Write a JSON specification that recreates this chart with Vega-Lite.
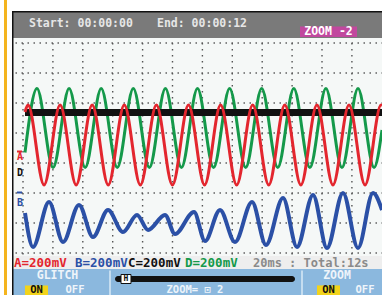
{
  "$schema": "https://vega.github.io/schema/vega-lite/v6.json",
  "width": 382,
  "height": 295,
  "autosize": {"type": "none"},
  "padding": 0,
  "background": "#ffffff",
  "config": {"view": {"stroke": null}, "text": {"font": "DejaVu Sans Mono"}},
  "datasets": {
    "gridx": [{"t":0},{"t":1},{"t":2},{"t":3},{"t":4},{"t":5},{"t":6},{"t":7},{"t":8},{"t":9},{"t":10},{"t":11}],
    "gridy": [{"v":0},{"v":1},{"v":2},{"v":3},{"v":4},{"v":5},{"v":6},{"v":7}],
    "D": [
      {"t":0.067,"v":3.35},{"t":0.468,"v":5.48},{"t":1.005,"v":2.85},{"t":1.542,"v":5.48},{"t":2.079,"v":2.85},
      {"t":2.615,"v":5.48},{"t":3.152,"v":2.85},{"t":3.689,"v":5.48},{"t":4.226,"v":2.85},{"t":4.763,"v":5.48},
      {"t":5.299,"v":2.85},{"t":5.836,"v":5.48},{"t":6.373,"v":2.85},{"t":6.910,"v":5.48},{"t":7.447,"v":2.85},
      {"t":7.983,"v":5.48},{"t":8.520,"v":2.85},{"t":9.057,"v":5.48},{"t":9.594,"v":2.85},{"t":10.130,"v":5.48},
      {"t":10.667,"v":2.85},{"t":11.204,"v":5.48},{"t":11.741,"v":2.85},{"t":12.007,"v":4.10}
    ],
    "A": [
      {"t":0.067,"v":4.70},{"t":0.167,"v":4.93},{"t":0.704,"v":2.27},{"t":1.241,"v":4.93},{"t":1.778,"v":2.27},
      {"t":2.314,"v":4.93},{"t":2.851,"v":2.27},{"t":3.388,"v":4.93},{"t":3.925,"v":2.27},{"t":4.462,"v":4.93},
      {"t":4.998,"v":2.27},{"t":5.535,"v":4.93},{"t":6.072,"v":2.27},{"t":6.609,"v":4.93},{"t":7.146,"v":2.27},
      {"t":7.682,"v":4.93},{"t":8.219,"v":2.27},{"t":8.756,"v":4.93},{"t":9.293,"v":2.27},{"t":9.830,"v":4.93},
      {"t":10.366,"v":2.27},{"t":10.903,"v":4.93},{"t":11.440,"v":2.27},{"t":11.977,"v":4.93},{"t":12.007,"v":4.92}
    ],
    "C": [{"t":0.067,"v":4.68},{"t":12.007,"v":4.68}],
    "B": [
      {"t":0.067,"v":1.333},{"t":0.334,"v":0.200},{"t":0.870,"v":1.700},{"t":1.338,"v":0.367},{"t":1.873,"v":1.600},
      {"t":2.341,"v":0.533},{"t":2.843,"v":1.433},{"t":3.344,"v":0.700},{"t":3.813,"v":1.267},{"t":4.181,"v":0.767},
      {"t":4.749,"v":1.267},{"t":5.084,"v":0.633},{"t":5.719,"v":1.367},{"t":6.087,"v":0.400},{"t":6.589,"v":1.433},
      {"t":7.090,"v":0.367},{"t":7.659,"v":1.700},{"t":8.127,"v":0.267},{"t":8.696,"v":1.833},{"t":9.164,"v":0.200},
      {"t":9.699,"v":1.933},{"t":10.167,"v":0.167},{"t":10.702,"v":2.000},{"t":11.204,"v":0.167},{"t":11.706,"v":2.000},
      {"t":12.007,"v":1.433}
    ]
  },
  "data": {"values": [{}]},
  "layer": [
    {"mark": {"type": "rect", "color": "#f4b41e"},
     "encoding": {"x": {"datum": -0.6355, "type": "quantitative", "scale": {"domain": [-0.76923, 12.00669], "nice": false, "zero": false}, "axis": null}, "x2": {"datum": -0.5351},
                  "y": {"datum": 8.43333, "type": "quantitative", "scale": {"domain": [-1.4, 8.43333], "nice": false, "zero": false}, "axis": null}, "y2": {"datum": -1.4}}},
    {"mark": {"type": "rect", "color": "#111111"},
     "encoding": {"x": {"datum": -0.3679, "type": "quantitative", "scale": {"domain": [-0.76923, 12.00669], "nice": false, "zero": false}, "axis": null}, "x2": {"datum": 12.00669},
                  "y": {"datum": 8.0667, "type": "quantitative", "scale": {"domain": [-1.4, 8.43333], "nice": false, "zero": false}, "axis": null}, "y2": {"datum": -1.4}}},
    {"mark": {"type": "rect", "color": "#7a7a7a"},
     "encoding": {"x": {"datum": -0.3177, "type": "quantitative", "scale": {"domain": [-0.76923, 12.00669], "nice": false, "zero": false}, "axis": null}, "x2": {"datum": 12.00669},
                  "y": {"datum": 8.0167, "type": "quantitative", "scale": {"domain": [-1.4, 8.43333], "nice": false, "zero": false}, "axis": null}, "y2": {"datum": 7.1667}}},
    {"mark": {"type": "rect", "color": "#f5f8f7"},
     "encoding": {"x": {"datum": -0.3177, "type": "quantitative", "scale": {"domain": [-0.76923, 12.00669], "nice": false, "zero": false}, "axis": null}, "x2": {"datum": 12.00669},
                  "y": {"datum": 7.1667, "type": "quantitative", "scale": {"domain": [-1.4, 8.43333], "nice": false, "zero": false}, "axis": null}, "y2": {"datum": -0.1}}},
    {"mark": {"type": "rect", "color": "#eeeeee"},
     "encoding": {"x": {"datum": -0.3177, "type": "quantitative", "scale": {"domain": [-0.76923, 12.00669], "nice": false, "zero": false}, "axis": null}, "x2": {"datum": 12.00669},
                  "y": {"datum": -0.1, "type": "quantitative", "scale": {"domain": [-1.4, 8.43333], "nice": false, "zero": false}, "axis": null}, "y2": {"datum": -0.5333}}},
    {"mark": {"type": "rect", "color": "#8bb8de"},
     "encoding": {"x": {"datum": -0.3177, "type": "quantitative", "scale": {"domain": [-0.76923, 12.00669], "nice": false, "zero": false}, "axis": null}, "x2": {"datum": 12.00669},
                  "y": {"datum": -0.5333, "type": "quantitative", "scale": {"domain": [-1.4, 8.43333], "nice": false, "zero": false}, "axis": null}, "y2": {"datum": -1.4}}},

    {"data": {"name": "gridx"},
     "mark": {"type": "rule", "color": "#555555", "strokeWidth": 1.4, "strokeDash": [1.4, 4.6]},
     "encoding": {"x": {"field": "t", "type": "quantitative", "scale": {"domain": [-0.76923, 12.00669], "nice": false, "zero": false}, "axis": null},
                  "y": {"datum": -0.05, "type": "quantitative", "scale": {"domain": [-1.4, 8.43333], "nice": false, "zero": false}, "axis": null}, "y2": {"datum": 7.1}}},
    {"data": {"name": "gridy"},
     "mark": {"type": "rule", "color": "#555555", "strokeWidth": 1.4, "strokeDash": [1.4, 4.6]},
     "encoding": {"y": {"field": "v", "type": "quantitative", "scale": {"domain": [-1.4, 8.43333], "nice": false, "zero": false}, "axis": null},
                  "x": {"datum": -0.25, "type": "quantitative", "scale": {"domain": [-0.76923, 12.00669], "nice": false, "zero": false}, "axis": null}, "x2": {"datum": 12.00669}}},

    {"data": {"name": "D"},
     "mark": {"type": "line", "color": "#14994a", "strokeWidth": 3, "interpolate": "monotone"},
     "encoding": {"x": {"field": "t", "type": "quantitative", "scale": {"domain": [-0.76923, 12.00669], "nice": false, "zero": false}, "axis": null},
                  "y": {"field": "v", "type": "quantitative", "scale": {"domain": [-1.4, 8.43333], "nice": false, "zero": false}, "axis": null}}},
    {"data": {"name": "C"},
     "mark": {"type": "line", "color": "#111111", "strokeWidth": 7},
     "encoding": {"x": {"field": "t", "type": "quantitative", "scale": {"domain": [-0.76923, 12.00669], "nice": false, "zero": false}, "axis": null},
                  "y": {"field": "v", "type": "quantitative", "scale": {"domain": [-1.4, 8.43333], "nice": false, "zero": false}, "axis": null}}},
    {"data": {"name": "A"},
     "mark": {"type": "line", "color": "#e3262e", "strokeWidth": 3, "interpolate": "monotone"},
     "encoding": {"x": {"field": "t", "type": "quantitative", "scale": {"domain": [-0.76923, 12.00669], "nice": false, "zero": false}, "axis": null},
                  "y": {"field": "v", "type": "quantitative", "scale": {"domain": [-1.4, 8.43333], "nice": false, "zero": false}, "axis": null}}},
    {"data": {"name": "B"},
     "mark": {"type": "line", "color": "#2b50a6", "strokeWidth": 4, "interpolate": "monotone"},
     "encoding": {"x": {"field": "t", "type": "quantitative", "scale": {"domain": [-0.76923, 12.00669], "nice": false, "zero": false}, "axis": null},
                  "y": {"field": "v", "type": "quantitative", "scale": {"domain": [-1.4, 8.43333], "nice": false, "zero": false}, "axis": null}}},

    {"mark": {"type": "rule", "color": "#e3262e", "strokeWidth": 2},
     "encoding": {"x": {"datum": -0.2007, "type": "quantitative", "scale": {"domain": [-0.76923, 12.00669], "nice": false, "zero": false}, "axis": null}, "x2": {"datum": -0.0334},
                  "y": {"datum": 3.3833, "type": "quantitative", "scale": {"domain": [-1.4, 8.43333], "nice": false, "zero": false}, "axis": null}}},
    {"mark": {"type": "rule", "color": "#2b50a6", "strokeWidth": 2},
     "encoding": {"x": {"datum": -0.2007, "type": "quantitative", "scale": {"domain": [-0.76923, 12.00669], "nice": false, "zero": false}, "axis": null}, "x2": {"datum": -0.0334},
                  "y": {"datum": 2.0167, "type": "quantitative", "scale": {"domain": [-1.4, 8.43333], "nice": false, "zero": false}, "axis": null}}},
    {"mark": {"type": "text", "text": "A", "fontSize": 10, "fontWeight": "bold", "color": "#e3262e", "align": "center", "baseline": "middle"},
     "encoding": {"x": {"datum": -0.1003, "type": "quantitative", "scale": {"domain": [-0.76923, 12.00669], "nice": false, "zero": false}, "axis": null},
                  "y": {"datum": 3.2, "type": "quantitative", "scale": {"domain": [-1.4, 8.43333], "nice": false, "zero": false}, "axis": null}}},
    {"mark": {"type": "text", "text": "D", "fontSize": 10, "fontWeight": "bold", "color": "#111111", "align": "center", "baseline": "middle"},
     "encoding": {"x": {"datum": -0.1003, "type": "quantitative", "scale": {"domain": [-0.76923, 12.00669], "nice": false, "zero": false}, "axis": null},
                  "y": {"datum": 2.65, "type": "quantitative", "scale": {"domain": [-1.4, 8.43333], "nice": false, "zero": false}, "axis": null}}},
    {"mark": {"type": "text", "text": "B", "fontSize": 10, "fontWeight": "bold", "color": "#2b50a6", "align": "center", "baseline": "middle"},
     "encoding": {"x": {"datum": -0.1003, "type": "quantitative", "scale": {"domain": [-0.76923, 12.00669], "nice": false, "zero": false}, "axis": null},
                  "y": {"datum": 1.6667, "type": "quantitative", "scale": {"domain": [-1.4, 8.43333], "nice": false, "zero": false}, "axis": null}}},

    {"mark": {"type": "text", "text": "Start: 00:00:00", "fontSize": 11.5, "fontWeight": "bold", "color": "#e6e6e6", "align": "left", "baseline": "middle"},
     "encoding": {"x": {"datum": 0.2007, "type": "quantitative", "scale": {"domain": [-0.76923, 12.00669], "nice": false, "zero": false}, "axis": null},
                  "y": {"datum": 7.6167, "type": "quantitative", "scale": {"domain": [-1.4, 8.43333], "nice": false, "zero": false}, "axis": null}}},
    {"mark": {"type": "text", "text": "End: 00:00:12", "fontSize": 11.5, "fontWeight": "bold", "color": "#e6e6e6", "align": "left", "baseline": "middle"},
     "encoding": {"x": {"datum": 4.4816, "type": "quantitative", "scale": {"domain": [-0.76923, 12.00669], "nice": false, "zero": false}, "axis": null},
                  "y": {"datum": 7.6167, "type": "quantitative", "scale": {"domain": [-1.4, 8.43333], "nice": false, "zero": false}, "axis": null}}},
    {"mark": {"type": "rect", "color": "#c1489e"},
     "encoding": {"x": {"datum": 9.2642, "type": "quantitative", "scale": {"domain": [-0.76923, 12.00669], "nice": false, "zero": false}, "axis": null}, "x2": {"datum": 11.1706},
                  "y": {"datum": 7.55, "type": "quantitative", "scale": {"domain": [-1.4, 8.43333], "nice": false, "zero": false}, "axis": null}, "y2": {"datum": 7.2}}},
    {"mark": {"type": "text", "text": "ZOOM -2", "fontSize": 11.5, "fontWeight": "bold", "color": "#ffffff", "align": "center", "baseline": "middle"},
     "encoding": {"x": {"datum": 10.2174, "type": "quantitative", "scale": {"domain": [-0.76923, 12.00669], "nice": false, "zero": false}, "axis": null},
                  "y": {"datum": 7.3667, "type": "quantitative", "scale": {"domain": [-1.4, 8.43333], "nice": false, "zero": false}, "axis": null}}},

    {"mark": {"type": "text", "text": "A=200mV", "fontSize": 12.5, "fontWeight": "bold", "color": "#e3262e", "align": "left", "baseline": "middle"},
     "encoding": {"x": {"datum": -0.301, "type": "quantitative", "scale": {"domain": [-0.76923, 12.00669], "nice": false, "zero": false}, "axis": null},
                  "y": {"datum": -0.3167, "type": "quantitative", "scale": {"domain": [-1.4, 8.43333], "nice": false, "zero": false}, "axis": null}}},
    {"mark": {"type": "text", "text": "B=200mV", "fontSize": 12.5, "fontWeight": "bold", "color": "#2b50a6", "align": "left", "baseline": "middle"},
     "encoding": {"x": {"datum": 1.7391, "type": "quantitative", "scale": {"domain": [-0.76923, 12.00669], "nice": false, "zero": false}, "axis": null},
                  "y": {"datum": -0.3167, "type": "quantitative", "scale": {"domain": [-1.4, 8.43333], "nice": false, "zero": false}, "axis": null}}},
    {"mark": {"type": "text", "text": "C=200mV", "fontSize": 12.5, "fontWeight": "bold", "color": "#111111", "align": "left", "baseline": "middle"},
     "encoding": {"x": {"datum": 3.5117, "type": "quantitative", "scale": {"domain": [-0.76923, 12.00669], "nice": false, "zero": false}, "axis": null},
                  "y": {"datum": -0.3167, "type": "quantitative", "scale": {"domain": [-1.4, 8.43333], "nice": false, "zero": false}, "axis": null}}},
    {"mark": {"type": "text", "text": "D=200mV", "fontSize": 12.5, "fontWeight": "bold", "color": "#14994a", "align": "left", "baseline": "middle"},
     "encoding": {"x": {"datum": 5.4181, "type": "quantitative", "scale": {"domain": [-0.76923, 12.00669], "nice": false, "zero": false}, "axis": null},
                  "y": {"datum": -0.3167, "type": "quantitative", "scale": {"domain": [-1.4, 8.43333], "nice": false, "zero": false}, "axis": null}}},
    {"mark": {"type": "text", "text": "20ms : Total:12s", "fontSize": 12, "fontWeight": "bold", "color": "#8a8a8a", "align": "left", "baseline": "middle"},
     "encoding": {"x": {"datum": 7.6923, "type": "quantitative", "scale": {"domain": [-0.76923, 12.00669], "nice": false, "zero": false}, "axis": null},
                  "y": {"datum": -0.3167, "type": "quantitative", "scale": {"domain": [-1.4, 8.43333], "nice": false, "zero": false}, "axis": null}}},

    {"mark": {"type": "rule", "color": "#c5ddf0", "strokeWidth": 2},
     "encoding": {"x": {"datum": 2.9097, "type": "quantitative", "scale": {"domain": [-0.76923, 12.00669], "nice": false, "zero": false}, "axis": null},
                  "y": {"datum": -0.5833, "type": "quantitative", "scale": {"domain": [-1.4, 8.43333], "nice": false, "zero": false}, "axis": null}, "y2": {"datum": -1.4}}},
    {"mark": {"type": "rule", "color": "#c5ddf0", "strokeWidth": 2},
     "encoding": {"x": {"datum": 9.3311, "type": "quantitative", "scale": {"domain": [-0.76923, 12.00669], "nice": false, "zero": false}, "axis": null},
                  "y": {"datum": -0.5833, "type": "quantitative", "scale": {"domain": [-1.4, 8.43333], "nice": false, "zero": false}, "axis": null}, "y2": {"datum": -1.4}}},
    {"mark": {"type": "text", "text": "GLITCH", "fontSize": 11.5, "fontWeight": "bold", "color": "#eef4fa", "align": "center", "baseline": "middle"},
     "encoding": {"x": {"datum": 1.1538, "type": "quantitative", "scale": {"domain": [-0.76923, 12.00669], "nice": false, "zero": false}, "axis": null},
                  "y": {"datum": -0.7833, "type": "quantitative", "scale": {"domain": [-1.4, 8.43333], "nice": false, "zero": false}, "axis": null}}},
    {"mark": {"type": "rect", "color": "#f2d31b"},
     "encoding": {"x": {"datum": 0.0669, "type": "quantitative", "scale": {"domain": [-0.76923, 12.00669], "nice": false, "zero": false}, "axis": null}, "x2": {"datum": 0.8361},
                  "y": {"datum": -1.08, "type": "quantitative", "scale": {"domain": [-1.4, 8.43333], "nice": false, "zero": false}, "axis": null}, "y2": {"datum": -1.4}}},
    {"mark": {"type": "text", "text": "ON", "fontSize": 10.5, "fontWeight": "bold", "color": "#111111", "align": "center", "baseline": "middle"},
     "encoding": {"x": {"datum": 0.4515, "type": "quantitative", "scale": {"domain": [-0.76923, 12.00669], "nice": false, "zero": false}, "axis": null},
                  "y": {"datum": -1.2167, "type": "quantitative", "scale": {"domain": [-1.4, 8.43333], "nice": false, "zero": false}, "axis": null}}},
    {"mark": {"type": "text", "text": "OFF", "fontSize": 10.5, "fontWeight": "bold", "color": "#eef4fa", "align": "center", "baseline": "middle"},
     "encoding": {"x": {"datum": 1.7391, "type": "quantitative", "scale": {"domain": [-0.76923, 12.00669], "nice": false, "zero": false}, "axis": null},
                  "y": {"datum": -1.2167, "type": "quantitative", "scale": {"domain": [-1.4, 8.43333], "nice": false, "zero": false}, "axis": null}}},
    {"mark": {"type": "rect", "color": "#111111", "cornerRadius": 3},
     "encoding": {"x": {"datum": 3.0769, "type": "quantitative", "scale": {"domain": [-0.76923, 12.00669], "nice": false, "zero": false}, "axis": null}, "x2": {"datum": 9.097},
                  "y": {"datum": -0.7667, "type": "quantitative", "scale": {"domain": [-1.4, 8.43333], "nice": false, "zero": false}, "axis": null}, "y2": {"datum": -0.9667}}},
    {"mark": {"type": "rect", "color": "#ffffff", "stroke": "#111111", "strokeWidth": 1},
     "encoding": {"x": {"datum": 3.2776, "type": "quantitative", "scale": {"domain": [-0.76923, 12.00669], "nice": false, "zero": false}, "axis": null}, "x2": {"datum": 3.612},
                  "y": {"datum": -0.7167, "type": "quantitative", "scale": {"domain": [-1.4, 8.43333], "nice": false, "zero": false}, "axis": null}, "y2": {"datum": -1.0167}}},
    {"mark": {"type": "text", "text": "H", "fontSize": 8, "fontWeight": "bold", "color": "#111111", "align": "center", "baseline": "middle"},
     "encoding": {"x": {"datum": 3.4448, "type": "quantitative", "scale": {"domain": [-0.76923, 12.00669], "nice": false, "zero": false}, "axis": null},
                  "y": {"datum": -0.8667, "type": "quantitative", "scale": {"domain": [-1.4, 8.43333], "nice": false, "zero": false}, "axis": null}}},
    {"mark": {"type": "text", "text": "ZOOM= ⊡ 2", "fontSize": 10.5, "fontWeight": "bold", "color": "#eef4fa", "align": "center", "baseline": "middle"},
     "encoding": {"x": {"datum": 5.7525, "type": "quantitative", "scale": {"domain": [-0.76923, 12.00669], "nice": false, "zero": false}, "axis": null},
                  "y": {"datum": -1.2167, "type": "quantitative", "scale": {"domain": [-1.4, 8.43333], "nice": false, "zero": false}, "axis": null}}},
    {"mark": {"type": "text", "text": "ZOOM", "fontSize": 11.5, "fontWeight": "bold", "color": "#eef4fa", "align": "center", "baseline": "middle"},
     "encoding": {"x": {"datum": 10.5017, "type": "quantitative", "scale": {"domain": [-0.76923, 12.00669], "nice": false, "zero": false}, "axis": null},
                  "y": {"datum": -0.7833, "type": "quantitative", "scale": {"domain": [-1.4, 8.43333], "nice": false, "zero": false}, "axis": null}}},
    {"mark": {"type": "rect", "color": "#f2d31b"},
     "encoding": {"x": {"datum": 9.8328, "type": "quantitative", "scale": {"domain": [-0.76923, 12.00669], "nice": false, "zero": false}, "axis": null}, "x2": {"datum": 10.602},
                  "y": {"datum": -1.08, "type": "quantitative", "scale": {"domain": [-1.4, 8.43333], "nice": false, "zero": false}, "axis": null}, "y2": {"datum": -1.4}}},
    {"mark": {"type": "text", "text": "ON", "fontSize": 10.5, "fontWeight": "bold", "color": "#111111", "align": "center", "baseline": "middle"},
     "encoding": {"x": {"datum": 10.2174, "type": "quantitative", "scale": {"domain": [-0.76923, 12.00669], "nice": false, "zero": false}, "axis": null},
                  "y": {"datum": -1.2167, "type": "quantitative", "scale": {"domain": [-1.4, 8.43333], "nice": false, "zero": false}, "axis": null}}},
    {"mark": {"type": "text", "text": "OFF", "fontSize": 10.5, "fontWeight": "bold", "color": "#eef4fa", "align": "center", "baseline": "middle"},
     "encoding": {"x": {"datum": 11.4381, "type": "quantitative", "scale": {"domain": [-0.76923, 12.00669], "nice": false, "zero": false}, "axis": null},
                  "y": {"datum": -1.2167, "type": "quantitative", "scale": {"domain": [-1.4, 8.43333], "nice": false, "zero": false}, "axis": null}}}
  ]
}
